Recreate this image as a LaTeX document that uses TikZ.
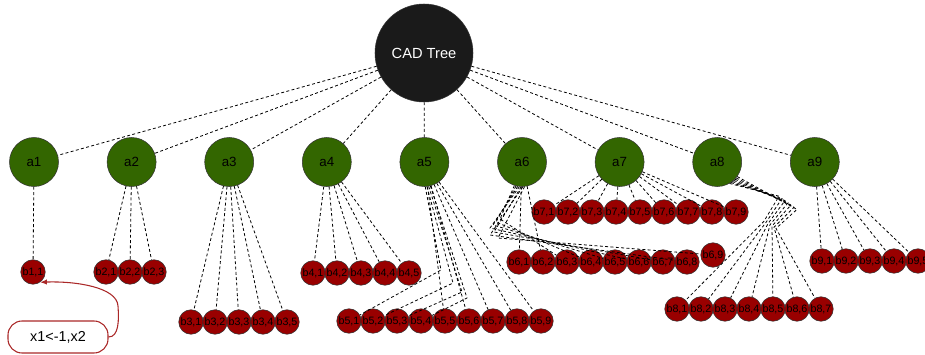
\documentclass[tikz,border=0pt]{standalone}
\usepackage{fontspec}
\setmainfont{Liberation Sans}
\usetikzlibrary{arrows,arrows.meta,calc}
\tikzset{>=Latex}
\definecolor{cadroot}{RGB}{26,26,26}
\definecolor{cadgreen}{RGB}{51,102,0}
\definecolor{leafred}{RGB}{153,0,0}
\definecolor{notered}{RGB}{170,40,40}
\colorlet{rim}{black!80}
\tikzset{
  treeroot/.style={circle,draw=rim,fill=cadroot,text=white,minimum size=73.5pt,inner sep=0pt,font=\fontsize{11}{13}\selectfont},
  anode/.style={circle,draw=rim,fill=cadgreen,minimum size=36.75pt,inner sep=0pt,font=\fontsize{10}{12}\selectfont},
  bnode/.style={circle,draw=rim,fill=leafred,minimum size=18.4pt,inner sep=0pt,font=\fontsize{8}{9}\selectfont},
  link/.style={dash pattern=on 2.2pt off 1.8pt,line width=0.6pt},
  note/.style={draw=notered,line width=0.8pt,rounded corners=10.5pt,fill=white,minimum width=75pt,minimum height=24pt,font=\fontsize{10.8}{13}\selectfont}
}

\begin{document}
\begin{tikzpicture}[x=0.75pt,y=-0.75pt]
    \useasboundingbox (0,0) rectangle (925,354);
    \clip (0,0) rectangle (925,354);
    % root and first level
    \node[treeroot] (T) at (424,53) {CAD Tree};
    \foreach \i in {1,...,9}
        \node[anode] (A\i) at ({34+97.6*(\i-1)},162) {a\i};
    % second level rows: index/first x/y/count
    \foreach \i/\x/\y/\n in {1/33/272/1,2/106/272/3,3/191/322/5,4/313/273/5,5/349/321/9,6/519/262/8,7/544/212/9,8/677/309/7,9/822/261/5}
        \foreach \j in {1,...,\n}
            \node[bnode] (B\i\j) at ({\x+24*(\j-1)},\y) {b\i,\j};
    \node[bnode] (B69) at (713,255) {b6,9};
    % edges
    \foreach \i in {1,...,9}
        \draw[link] (T) -- (A\i);
    \foreach \i/\n in {1/1,2/3,3/5,4/5,7/9,9/5}
        \foreach \j in {1,...,\n}
            \draw[link] (A\i) -- (B\i\j);
    \foreach \j/\wx/\wy in {1/441/270,2/453/283,3/462/292,4/467/298}
        \draw[link] (A5.{-92+4*\j}) -- (\wx,\wy) -- (B5\j);
    \foreach \j in {5,...,9}
        \draw[link] (A5) -- (B5\j);
    \foreach \j in {1,2}
        \draw[link] (A6) -- (B6\j);
    \foreach \j/\wx/\wy in {3/500/219,4/496/222,5/493/225,6/490/228,7/494/232,8/490/235,9/498/238}
        \draw[link] (A6.{-120+4*\j}) -- (\wx,\wy) -- (B6\j);
    \foreach \j in {1,...,7}
        \draw[link] (A8.{-64+4*\j}) -- ({776+3*\j},{194+2.2*\j}) -- ({762+2*\j},{220+1.2*\j}) -- (B8\j);
    % note
    \node[note] (L) at (58,337) {x1<-1,x2};
    \draw[notered,line width=0.8pt,-{Latex[length=5pt,width=4pt]}] (L.east) .. controls (119,337) and (119,320) .. (118,306) .. controls (117,287) and (75,281) .. (B11.-55);
\end{tikzpicture}
\end{document}
